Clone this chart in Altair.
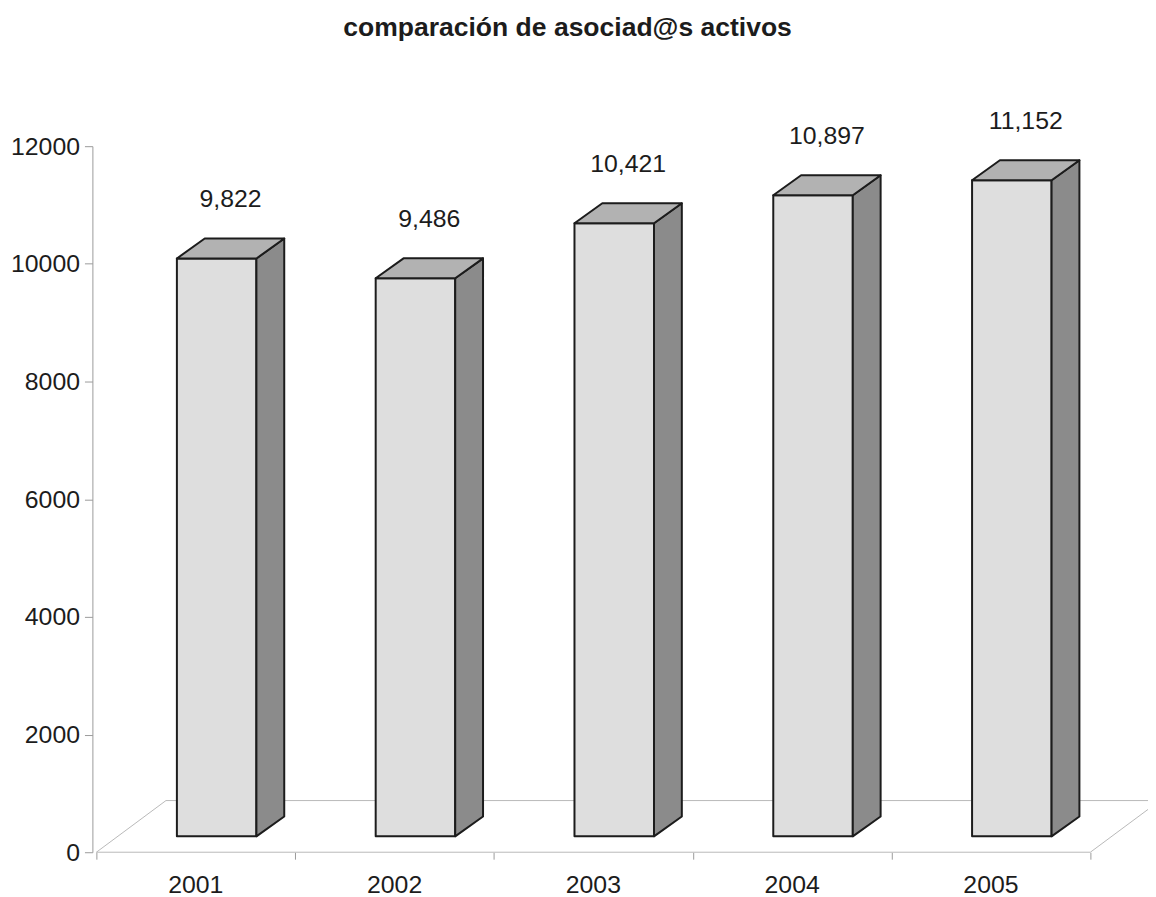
import altair as alt
import pandas as pd

# ---- data ----
years = ["2001", "2002", "2003", "2004", "2005"]
values = [9822, 9486, 10421, 10897, 11152]
value_labels = ["9,822", "9,486", "10,421", "10,897", "11,152"]
y_ticks = [0, 2000, 4000, 6000, 8000, 10000, 12000]
title_text = "comparación de asociad@s activos"

# ---- 3D geometry (style constants, in scale units) ----
N = len(years)
X_MAX = 5.29          # x domain upper bound (category units)
BAR_W = 0.40          # bar front width
FRONT_DX = 0.105      # bar front offset into depth
FRONT_DY = 270        # same, in y units
DEPTH_DX = 0.14       # bar depth
DEPTH_DY = 338
FLOOR_DX = 0.35       # floor depth
FLOOR_DY = 878
FONT = "Liberation Sans"
INK = "#1c1c1c"

front, side, top, labels = [], [], [], []
for i, (yr, v, lab) in enumerate(zip(years, values, value_labels)):
    c = i + 0.5 + FRONT_DX
    L, R = c - BAR_W / 2, c + BAR_W / 2
    b, t = FRONT_DY, FRONT_DY + v
    front.append({"year": yr, "x": L, "x2": R, "y": b, "y2": t})
    side += [
        {"year": yr, "x": R, "y": b, "y2": t},
        {"year": yr, "x": R + DEPTH_DX, "y": b + DEPTH_DY, "y2": t + DEPTH_DY},
    ]
    top += [
        {"year": yr, "x": L, "y": t, "y2": t},
        {"year": yr, "x": L + DEPTH_DX, "y": t, "y2": t + DEPTH_DY},
        {"year": yr, "x": R, "y": t, "y2": t + DEPTH_DY},
        {"year": yr, "x": R + DEPTH_DX, "y": t + DEPTH_DY, "y2": t + DEPTH_DY},
    ]
    labels.append({"year": yr, "label": lab, "x": c + DEPTH_DX / 2, "y": t + DEPTH_DY})

floor = pd.DataFrame([
    {"x": 0, "y": 0, "x2": N, "y2": 0},
    {"x": 0, "y": 0, "x2": FLOOR_DX, "y2": FLOOR_DY},
    {"x": FLOOR_DX, "y": FLOOR_DY, "x2": N + FLOOR_DX, "y2": FLOOR_DY},
    {"x": N, "y": 0, "x2": N + FLOOR_DX, "y2": FLOOR_DY},
])
cats = pd.DataFrame({"year": years, "x": [i + 0.5 for i in range(N)], "y": [0] * N})

xs = alt.Scale(domain=[0, X_MAX], nice=False)
ys = alt.Scale(domain=[0, 12000], nice=False)

X = alt.X("x:Q", scale=xs,
          axis=alt.Axis(values=list(range(N + 1)), labels=False, title=None, grid=False,
                        domain=False, tickSize=7, tickColor="#9a9a9a", tickWidth=1))
Y = alt.Y("y:Q", scale=ys,
          axis=alt.Axis(values=y_ticks, format="d", title=None, grid=False,
                        domainColor="#9a9a9a", tickColor="#9a9a9a", tickSize=8, offset=4,
                        labelFont=FONT, labelFontSize=25, labelColor=INK, labelPadding=5))

floor_layer = alt.Chart(floor).mark_rule(color="#b8b8b8", strokeWidth=1).encode(
    x=X, y=Y, x2="x2:Q", y2="y2:Q")

front_layer = alt.Chart(pd.DataFrame(front)).mark_rect(
    fill="#dedede", stroke=INK, strokeWidth=2, strokeJoin="round").encode(
    x="x:Q", x2="x2:Q", y="y:Q", y2="y2:Q")

side_layer = alt.Chart(pd.DataFrame(side)).mark_area(
    orient="vertical", fill="#8b8b8b", stroke=INK, strokeWidth=2, strokeJoin="round",
    opacity=1).encode(x="x:Q", y="y:Q", y2="y2:Q", detail="year:N")

top_layer = alt.Chart(pd.DataFrame(top)).mark_area(
    orient="vertical", fill="#b2b2b2", stroke=INK, strokeWidth=2, strokeJoin="round",
    opacity=1).encode(x="x:Q", y="y:Q", y2="y2:Q", detail="year:N")

value_text = alt.Chart(pd.DataFrame(labels)).mark_text(
    font=FONT, fontSize=25, color=INK, dy=-40, baseline="middle", align="center").encode(
    x="x:Q", y="y:Q", text="label:N")

cat_text = alt.Chart(cats).mark_text(
    font=FONT, fontSize=25, color=INK, dy=33, baseline="middle", align="center").encode(
    x="x:Q", y="y:Q", text="year:N")

chart = alt.layer(floor_layer, front_layer, side_layer, top_layer, value_text, cat_text).properties(
    width=1059, height=711,
    autosize=alt.AutoSizeParams(type="none"),
    padding={"left": 89, "top": 136, "right": 0, "bottom": 50},
    view=alt.ViewBackground(stroke="transparent", strokeWidth=0),
    title=alt.TitleParams(title_text, font=FONT, fontSize=26.7, fontWeight="bold", color=INK,
                          anchor="middle", frame="group", dx=-55, offset=67),
).configure(background="white", view=alt.ViewConfig(stroke="transparent", strokeWidth=0))

chart.save("out.html", embed_options={"renderer": "svg", "actions": False})
